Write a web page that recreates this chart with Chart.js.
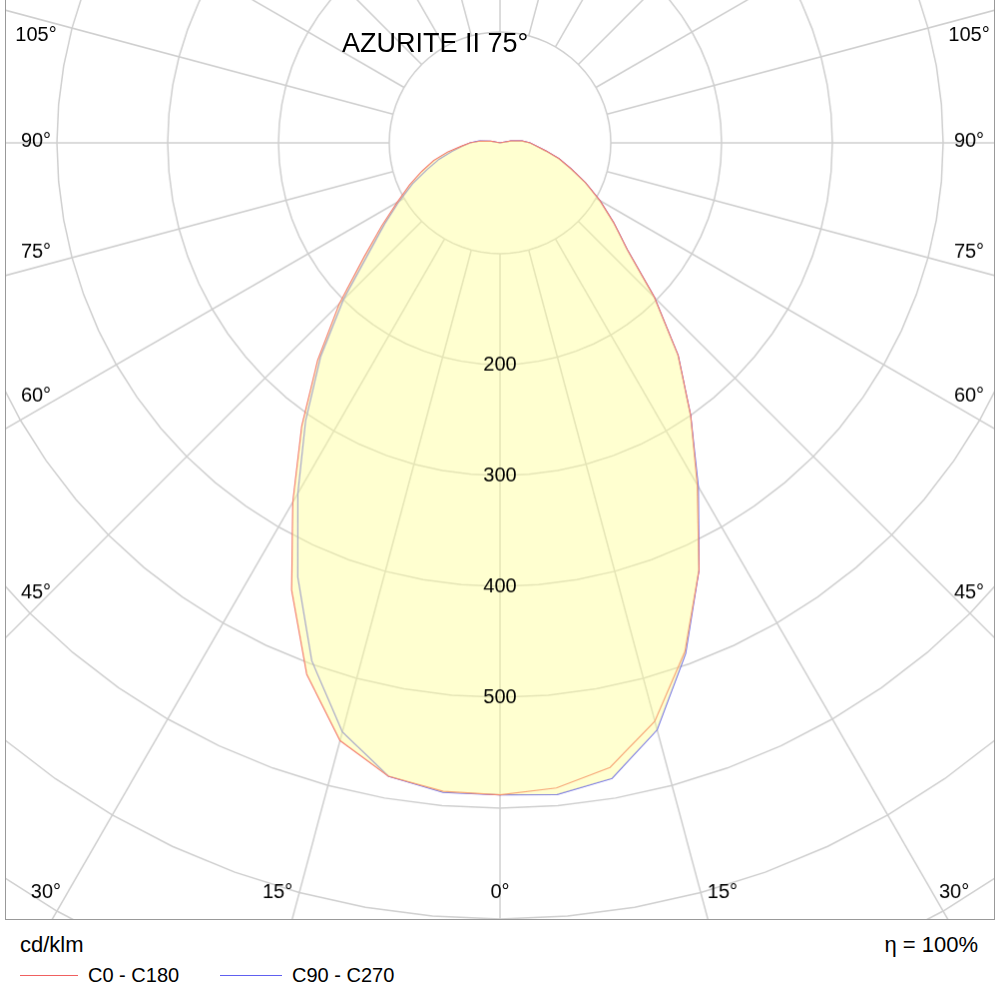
<!DOCTYPE html>
<html><head><meta charset="utf-8">
<script src="https://cdn.jsdelivr.net/npm/chart.js@4"></script>
<style>
body{margin:0;background:#fff;font-family:Arial,"Liberation Sans",sans-serif;}
#wrap{position:relative;width:1000px;height:1000px;}
#c{position:absolute;left:5px;top:0;border:1px solid #999;border-top:none;}
.t{position:absolute;color:#000;white-space:nowrap}
.ln{position:absolute;height:1px}
</style></head><body>
<div id="wrap">
<canvas id="c" width="990" height="920"></canvas>
<div class="t" style="left:342px;top:28px;font-size:27px">AZURITE II 75°</div>
<div class="t" style="left:20px;top:932px;font-size:22px">cd/klm</div>
<div class="t" style="right:22px;top:932px;font-size:22px">η = 100%</div>
<div class="ln" style="left:20px;top:975px;width:58px;background:#f06060"></div>
<div class="t" style="left:88px;top:964px;font-size:20px">C0 - C180</div>
<div class="ln" style="left:220px;top:975px;width:62px;background:#6060f0"></div>
<div class="t" style="left:292px;top:964px;font-size:20px">C90 - C270</div>
</div>
<script>
// gamma 0..105 in 5° steps, cd/klm
const gammas = [0,5,10,15,20,25,30,35,40,45,50,55,60,65,70,75,80,85,90,95,100,105];
const c0   = [588,584,572,540,488,425,356,300,250,197,150,125,104,85,68,55,42,33,27,20,10,0];
const c180 = [588,587,580,558,510,445,374,312,256,205,160,130,107,90,75,62,48,35,27,18,8,0];
const c90  = [588,590,582,548,490,425,358,300,250,197,150,125,104,85,68,55,42,33,27,20,10,0];
const c270 = [588,588,580,550,497,432,365,306,252,200,155,127,105,87,70,57,44,34,27,19,9,0];
const ringLabels = [200,300,400,500];
const angleLabels = [0,15,30,45,60,75,90,105];

// radar index i sits at i*5° clockwise from the bottom (left side first)
function buildSeries(left, right){
  const out = new Array(72).fill(0);
  gammas.forEach((g,k)=>{ out[g/5]=left[k]; if(g>0) out[72-g/5]=right[k]; });
  return out;
}
const labels = Array.from({length:72},(_,i)=>i*5);
const red = buildSeries(c180, c0);
const blue = buildSeries(c270, c90);
const fillData = red.map((v,i)=>Math.max(v, blue[i]));

const CX=495, CY=143, PX_PER_CD=1.11, RMAX=900;
const polarPlugin = {
  id:'polar',
  afterLayout(chart){
    const s=chart.scales.r;
    s.xCenter=CX; s.yCenter=CY; s.drawingArea=RMAX*PX_PER_CD;
  },
  beforeDatasetsDraw(chart){
    const s=chart.scales.r, ctx=chart.ctx;
    ctx.save();
    ctx.strokeStyle='#cfcfcf'; ctx.lineWidth=1.5;
    for(let i=0;i<72;i+=3){
      const a=s.getPointPositionForValue(i,100), b=s.getPointPositionForValue(i,RMAX);
      ctx.beginPath(); ctx.moveTo(a.x,a.y); ctx.lineTo(b.x,b.y); ctx.stroke();
    }
    ctx.restore();
  },
  afterDatasetsDraw(chart){
    const s=chart.scales.r, ctx=chart.ctx;
    ctx.save();
    ctx.fillStyle='#000'; ctx.font='20px Arial, "Liberation Sans"';
    ctx.textAlign='center'; ctx.textBaseline='middle';
    ringLabels.forEach(v=>{ ctx.fillText(String(v), CX, CY+s.getDistanceFromCenterForValue(v)); });
    const W=chart.width, bottomY=893, sideX=30;
    angleLabels.forEach(g=>{
      const t=g*Math.PI/180;
      if(g<=30){
        const dx=(bottomY-CY)*Math.tan(t);
        const off = g===0?0:22;
        ctx.fillText(g+'°', CX-dx-off, bottomY);
        if(g>0) ctx.fillText(g+'°', CX+dx+off, bottomY);
      } else {
        const dy=(CX-sideX)/Math.tan(t);
        let y=CY+dy-15; if(g===90) y=CY-2; if(g===105) y=CY+dy+17;
        ctx.fillText(g+'°', sideX, y);
        ctx.fillText(g+'°', W-sideX+5, y);
      }
    });
    ctx.restore();
  }
};

new Chart(document.getElementById('c'), {
  type:'radar',
  data:{
    labels:labels,
    datasets:[
      {data:fillData, fill:'origin', backgroundColor:'rgba(255,255,150,0.45)', borderWidth:0, pointRadius:0},
      {data:red, fill:false, borderColor:'#f06060', borderWidth:1.2, pointRadius:0},
      {data:blue, fill:false, borderColor:'#6060f0', borderWidth:1.2, pointRadius:0}
    ]
  },
  options:{
    responsive:false, animation:false, devicePixelRatio:1,
    layout:{padding:0},
    plugins:{legend:{display:false}, tooltip:{enabled:false}},
    scales:{r:{
      min:0, max:RMAX, startAngle:180,
      ticks:{display:false, stepSize:100},
      grid:{color:'#cfcfcf', lineWidth:1.5},
      angleLines:{display:false},
      pointLabels:{display:false}
    }}
  },
  plugins:[polarPlugin]
});
</script>
</body></html>
